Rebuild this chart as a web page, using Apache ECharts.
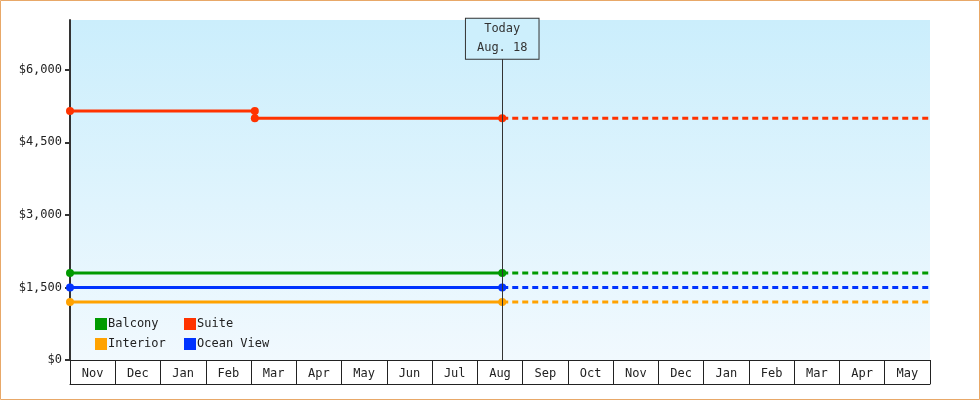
<!DOCTYPE html>
<html><head><meta charset="utf-8">
<script src="https://cdn.jsdelivr.net/npm/echarts@6/dist/echarts.min.js"></script>
<style>html,body{margin:0;padding:0;background:#fff}#c{width:980px;height:400px}</style>
</head><body><div id="c"></div>
<script>
var months = ['Nov','Dec','Jan','Feb','Mar','Apr','May','Jun','Jul','Aug','Sep','Oct','Nov','Dec','Jan','Feb','Mar','Apr','May'];
var yTicks = [0,1500,3000,4500,6000];
var startDate = '2017-11-01', endDate = '2019-06-01', todayDate = '2018-08-18';
var balcony = [['2017-11-01',1800],['2018-08-18',1800]];
var suite = [['2017-11-01',5150],['2018-03-05',5150],['2018-03-05',5000],['2018-08-18',5000]];
var interior = [['2017-11-01',1200],['2018-08-18',1200]];
var oceanView = [['2017-11-01',1500],['2018-08-18',1500]];
var seriesDefs = [
  {name:'Balcony', color:'#009a00', data:balcony},
  {name:'Suite', color:'#ff3300', data:suite},
  {name:'Interior', color:'#ffa200', data:interior},
  {name:'Ocean View', color:'#0033ff', data:oceanView}
];
var font = 'DejaVu Sans Mono';
var series = [];
seriesDefs.forEach(function(s, i){
  var last = s.data[s.data.length-1];
  var solid = {name:s.name, type:'line', xAxisIndex:0, data:s.data, color:s.color,
    symbol:'circle', symbolSize:8, lineStyle:{width:3, color:s.color}, itemStyle:{color:s.color}, z:3};
  if (i === 0) {
    solid.markLine = {silent:true, symbol:'none',
      lineStyle:{color:'#333', width:1, type:'solid'},
      label:{show:true, position:'end', distance:0, formatter:'Today\nAug. 18', fontFamily:font, fontSize:12,
        color:'#333', lineHeight:19, padding:[1,11,1,11], borderColor:'#333', borderWidth:1, backgroundColor:'#cdeffc'},
      data:[[{coord:[todayDate,0]},{coord:[todayDate,6230]}]]};
  }
  series.push(solid);
  series.push({name:s.name, type:'line', xAxisIndex:0, data:[last,[endDate,last[1]]], color:s.color,
    symbol:'none', lineStyle:{width:3, color:s.color, type:[6,4]}, z:2});
});
var chart = echarts.init(document.getElementById('c'));
chart.setOption({
  animation:false,
  textStyle:{fontFamily:font},
  grid:{left:70, right:50, top:20, bottom:40, show:true, borderWidth:0,
    backgroundColor:new echarts.graphic.LinearGradient(0,0,0,1,[{offset:0,color:'#cbeefc'},{offset:1,color:'#f1f9fe'}])},
  xAxis:[
    {type:'time', min:startDate, max:endDate, show:false},
    {type:'category', data:months, position:'bottom', boundaryGap:true,
      axisLine:{show:true, lineStyle:{color:'#222', width:1}},
      axisTick:{show:true, interval:0, length:24, lineStyle:{color:'#222'}},
      axisLabel:{interval:0, margin:8, fontFamily:font, fontSize:12, color:'#222'}, splitLine:{show:false}},
    {type:'category', data:months, position:'bottom', offset:24, boundaryGap:true,
      axisLine:{show:true, lineStyle:{color:'#222', width:1}}, axisTick:{show:false}, axisLabel:{show:false}}
  ],
  yAxis:{type:'value', min:0, max:7030,
    axisLine:{show:true, lineStyle:{color:'#333', width:2}},
    axisTick:{show:true, length:5, customValues:yTicks, lineStyle:{color:'#333', width:2}},
    axisLabel:{customValues:yTicks, fontFamily:font, fontSize:12, color:'#222', margin:8,
      formatter:function(v){return '$'+v.toLocaleString('en-US');}},
    splitLine:{show:false}},
  legend:[
    {data:['Balcony','Interior'], orient:'vertical', left:90, top:313, itemWidth:12, itemHeight:12, itemGap:8,
      icon:'rect', textStyle:{fontFamily:font, fontSize:12, color:'#222', padding:[0,0,0,-4]}},
    {data:['Suite','Ocean View'], orient:'vertical', left:179, top:313, itemWidth:12, itemHeight:12, itemGap:8,
      icon:'rect', textStyle:{fontFamily:font, fontSize:12, color:'#222', padding:[0,0,0,-4]}}
  ],
  graphic:[{type:'rect', shape:{x:0.5,y:0.5,width:979,height:399}, style:{fill:'none', stroke:'#e8a868', lineWidth:1}, silent:true, z:100}],
  series:series
});
</script></body></html>
